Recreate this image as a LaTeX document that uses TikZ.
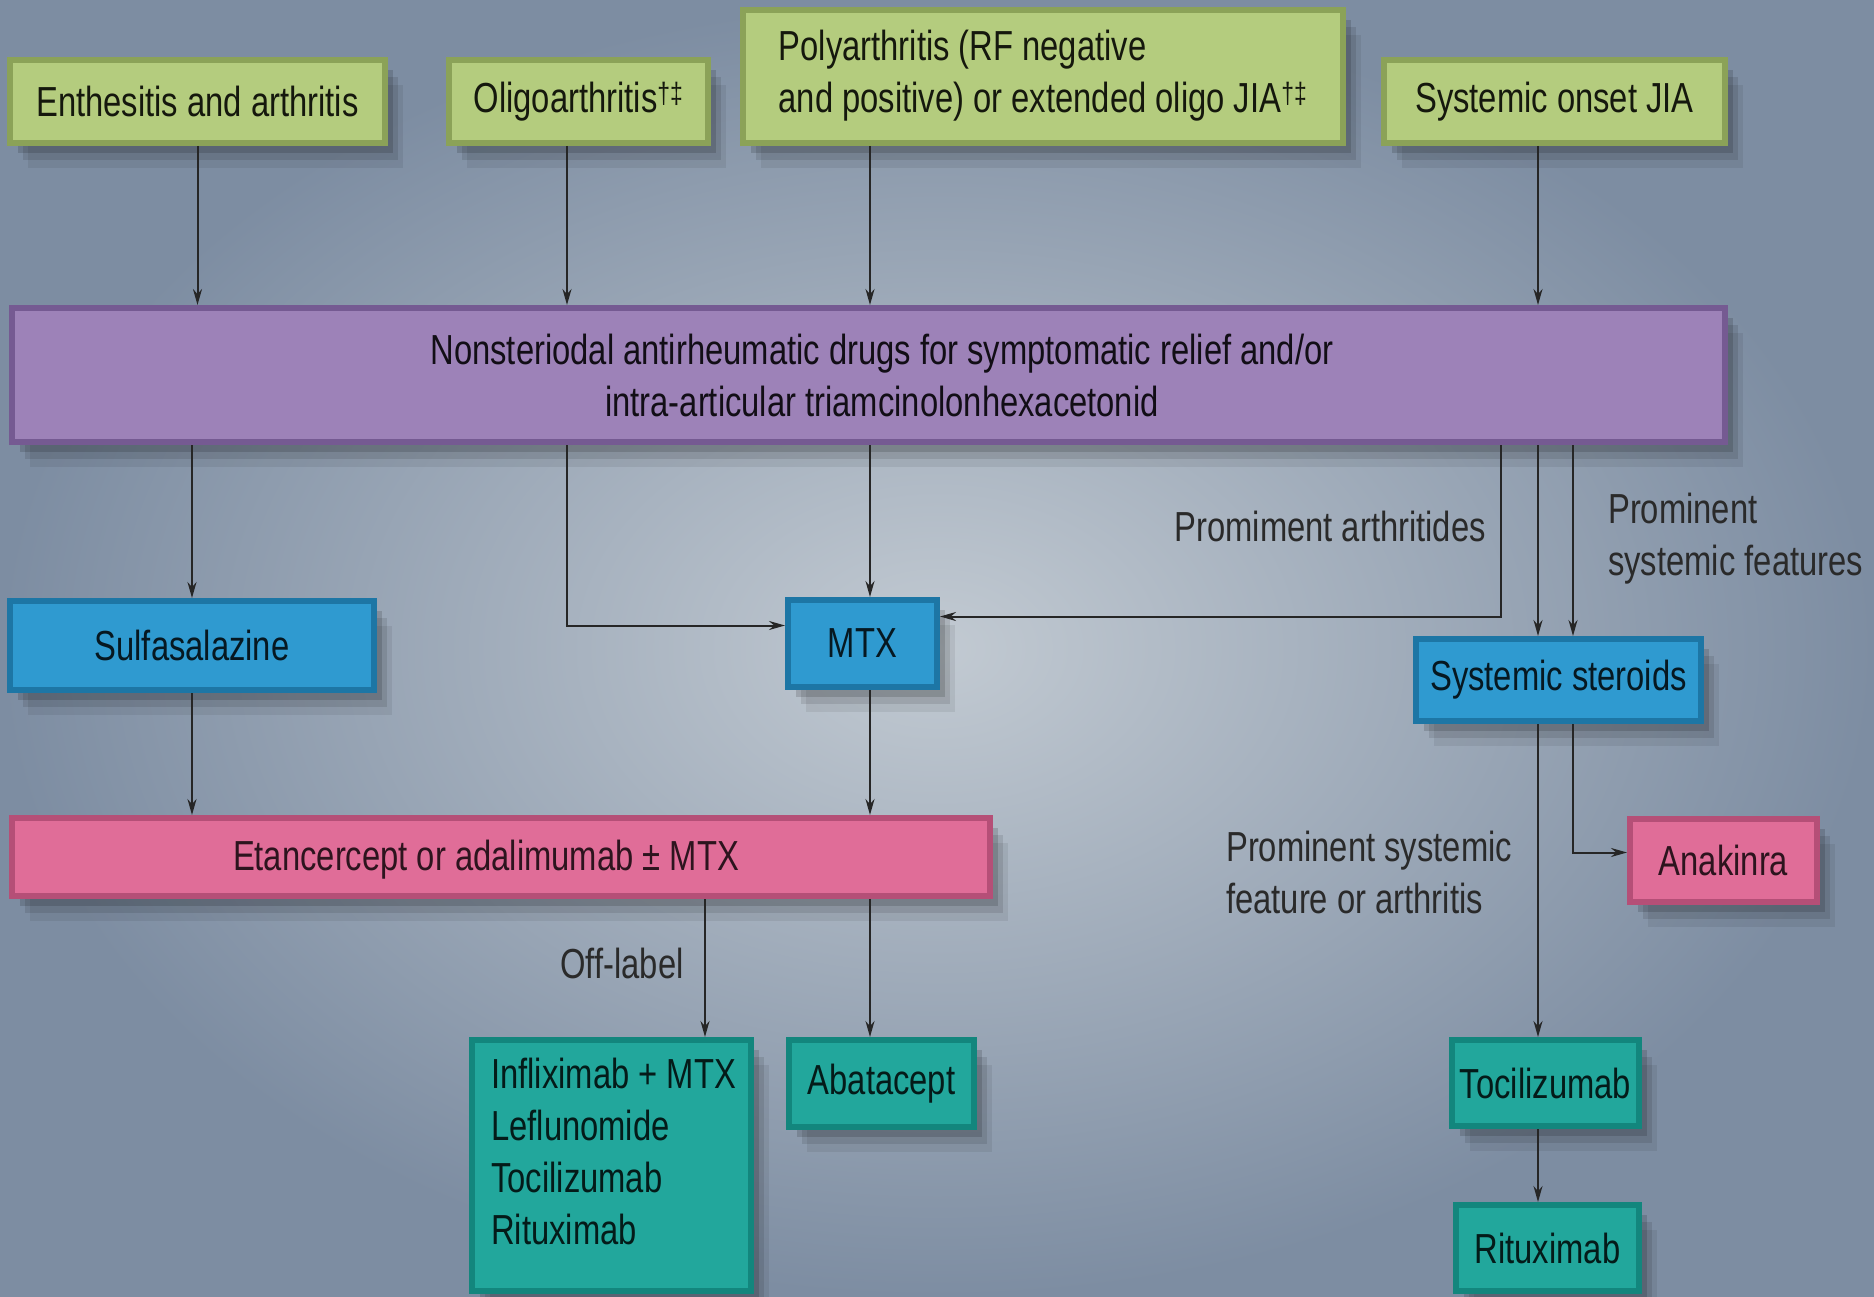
\documentclass[tikz,border=0pt]{standalone}
\usepackage{fontspec}
\setmainfont{Liberation Sans}[FakeStretch=0.78]
\usetikzlibrary{arrows.meta,shadows}
\definecolor{bgin}{HTML}{C2CAD2}
\definecolor{bgout}{HTML}{7D8DA2}
\definecolor{gface}{HTML}{B4CC7E}
\definecolor{gedge}{HTML}{8BA258}
\definecolor{pface}{HTML}{9D82B8}
\definecolor{pedge}{HTML}{755A92}
\definecolor{bface}{HTML}{2F9AD0}
\definecolor{bedge}{HTML}{1D76A5}
\definecolor{kface}{HTML}{E06D98}
\definecolor{kedge}{HTML}{B54F77}
\definecolor{tface}{HTML}{22A79C}
\definecolor{tedge}{HTML}{13867D}
\definecolor{txtdark}{HTML}{2A2A2A}
\tikzset{
  basebox/.style={inner sep=0pt, align=center, line width=6pt,
    font=\fontsize{42}{52}\selectfont,
    drop shadow={shadow xshift=8pt,shadow yshift=-10pt,opacity=0.14,fill=black},
    drop shadow={shadow xshift=13pt,shadow yshift=-17pt,opacity=0.10,fill=black},
    drop shadow={shadow xshift=18pt,shadow yshift=-25pt,opacity=0.07,fill=black}},
  gbox/.style={basebox, fill=gface, draw=gedge, text=black!85!gedge},
  pbox/.style={basebox, fill=pface, draw=pedge, text=black!85!pedge},
  bbox/.style={basebox, fill=bface, draw=bedge, text=black!80!bedge},
  kbox/.style={basebox, fill=kface, draw=kedge, text=black!75!kedge},
  tbox/.style={basebox, fill=tface, draw=tedge, text=black!80!tedge},
  lbl/.style={inner sep=0pt, align=left, text=txtdark, font=\fontsize{42}{52}\selectfont},
  arr/.style={draw=black!85, line width=2pt, -{Stealth[length=16pt,width=9pt]}}
}
\begin{document}
\begin{tikzpicture}[x=1pt,y=-1pt]
\shade[inner color=bgin, outer color=bgout] (0,0) rectangle (1874,1297);
\useasboundingbox (0,0) rectangle (1874,1297);
% x positions of connectors
\coordinate (c2) at (567,0);
\coordinate (c3) at (870,0);
\coordinate (c4) at (1538,0);
\coordinate (c5) at (1573,0);
\coordinate (c6) at (1501,0);
\coordinate (c7) at (705,0);
% top row
\node[gbox, minimum width=375, minimum height=83] (enth) at (197.5,101.5) {Enthesitis and arthritis};
\node[gbox, minimum width=259, minimum height=83] (olig) at (578.5,101.5) {Oligoarthritis\textsuperscript{†‡}};
\node[gbox, minimum width=600, minimum height=133] (poly) at (1043,76.5) {\begin{tabular}{@{}l@{}}Polyarthritis (RF negative\\ and positive) or extended oligo JIA\textsuperscript{†‡}\end{tabular}};
\node[gbox, minimum width=341, minimum height=83] (sys) at (1554.5,101.5) {Systemic onset JIA};
% NSAID bar
\node[pbox, minimum width=1713, minimum height=134] (nsaid) at (868.5,375) {};
\node[lbl, align=center, text=black!85!pedge] (nsaidtxt) at (882,375) {Nonsteriodal antirheumatic drugs for symptomatic relief and/or\\ intra-articular triamcinolonhexacetonid};
% second row
\node[bbox, minimum width=364, minimum height=89] (sulfa) at (192,645.5) {Sulfasalazine};
\node[bbox, minimum width=149, minimum height=87] (mtx) at (862.5,643.5) {MTX};
\node[bbox, minimum width=285, minimum height=82] (ster) at (1558.5,680) {Systemic steroids};
% third row
\node[kbox, minimum width=978, minimum height=78] (etan) at (501,857) {};
\node[lbl, align=center, text=black!75!kedge] (etantxt) at (486,860) {Etancercept or adalimumab ± MTX};
\node[kbox, minimum width=187, minimum height=83] (anak) at (1723.5,860.5) {Anakinra};
% bottom row
\node[tbox, minimum width=279, minimum height=251] (infl) at (611.5,1165.5) {};
\node[lbl, anchor=north west, text=black!80!tedge] (infltxt) at (491,1058) {Infliximab + MTX\\ Leflunomide\\ Tocilizumab\\ Rituximab};
\node[tbox, minimum width=185, minimum height=87] (abat) at (881.5,1083.5) {Abatacept};
\node[tbox, minimum width=187, minimum height=86] (toci) at (1545.5,1083) {Tocilizumab};
\node[tbox, minimum width=183, minimum height=86] (ritu) at (1547.5,1248) {Rituximab};
% labels
\node[lbl, anchor=east] (lab1) at (1486,526) {Promiment arthritides};
\node[lbl, anchor=west] (lab2) at (1608,539) {Prominent\\ systemic features};
\node[lbl] (lab3) at (622,963) {Off-label};
\node[lbl, anchor=west] (lab4) at (1226,872) {Prominent systemic\\ feature or arthritis};
% connectors
\draw[arr] (enth.south) -- (enth.south |- nsaid.north);
\draw[arr] (olig.south -| c2) -- (nsaid.north -| c2);
\draw[arr] (poly.south -| c3) -- (nsaid.north -| c3);
\draw[arr] (sys.south -| c4) -- (nsaid.north -| c4);
\draw[arr] (nsaid.south -| sulfa.north) -- (sulfa.north);
\draw[arr] (nsaid.south -| c2) |- ([yshift=18pt]mtx.west);
\draw[arr] (nsaid.south -| c3) -- (mtx.north -| c3);
\draw[arr] (nsaid.south -| c6) |- ([yshift=27pt]mtx.east);
\draw[arr] (nsaid.south -| c4) -- (ster.north -| c4);
\draw[arr] (nsaid.south -| c5) -- (ster.north -| c5);
\draw[arr] (sulfa.south) -- (sulfa.south |- etan.north);
\draw[arr] (mtx.south -| c3) -- (etan.north -| c3);
\draw[arr] (etan.south -| c7) -- (infl.north -| c7);
\draw[arr] (etan.south -| c3) -- (abat.north -| c3);
\draw[arr] (ster.south -| c4) -- (toci.north -| c4);
\draw[arr] (ster.south -| c5) |- ([yshift=8pt]anak.west);
\draw[arr] (toci.south -| c4) -- (ritu.north -| c4);
\end{tikzpicture}
\end{document}
